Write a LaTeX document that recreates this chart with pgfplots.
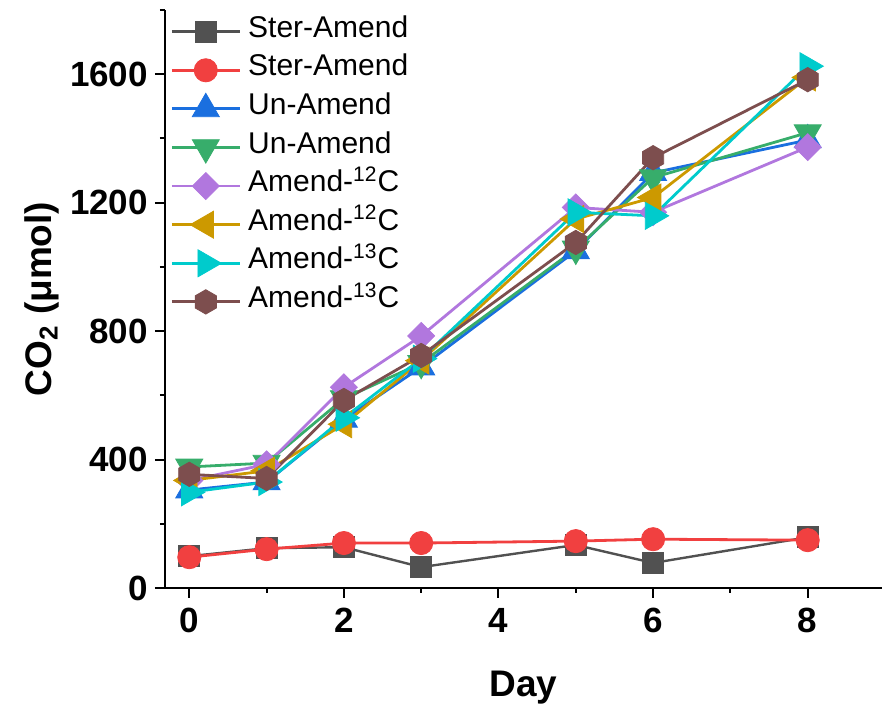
\documentclass[border=0pt]{standalone}
\usepackage{fontspec}
\setmainfont{Liberation Sans}
\usepackage{pgfplots}
\pgfplotsset{compat=1.18}
\definecolor{cgray}{HTML}{515151}
\definecolor{cred}{HTML}{F14040}
\definecolor{cblue}{HTML}{1A6FDF}
\definecolor{cgreen}{HTML}{37AD6B}
\definecolor{cpurple}{HTML}{B177DE}
\definecolor{cgold}{HTML}{CC9900}
\definecolor{ccyan}{HTML}{00CBCC}
\definecolor{cbrown}{HTML}{7D4E4E}
\pgfdeclareplotmark{hexagon*}{%
  \pgfpathmoveto{\pgfpointpolar{90}{\pgfplotmarksize}}%
  \pgfpathlineto{\pgfpointpolar{150}{\pgfplotmarksize}}%
  \pgfpathlineto{\pgfpointpolar{210}{\pgfplotmarksize}}%
  \pgfpathlineto{\pgfpointpolar{270}{\pgfplotmarksize}}%
  \pgfpathlineto{\pgfpointpolar{330}{\pgfplotmarksize}}%
  \pgfpathlineto{\pgfpointpolar{30}{\pgfplotmarksize}}%
  \pgfpathclose\pgfusepathqfillstroke}
\begin{document}
\begin{tikzpicture}
\useasboundingbox (-82.5pt,-61pt) rectangle (358.5pt,294pt);
\begin{axis}[
  at={(0,0)}, anchor=south west, scale only axis,
  width=358.5pt, height=289pt,
  xmin=-0.314, xmax=8.961, ymin=0, ymax=1800,
  clip=false,
  axis x line*=bottom, axis y line*=left,
  axis line style={line width=1pt, black},
  xtick={0,2,4,6,8}, minor xtick={1,3,5,7},
  ytick={0,400,800,1200,1600}, minor ytick={200,600,1000,1400,1800},
  tick align=outside, major tick length=5pt, minor tick length=2.5pt,
  every tick/.style={line width=1pt, black},
  ticklabel style={font=\fontsize{17.5}{17.5}\selectfont\bfseries},
  xticklabel style={yshift=-1.5pt},
  /pgf/number format/assume math mode=true,
  /pgf/number format/1000 sep={},
  xlabel={Day}, ylabel={CO\textsubscript{2} (μmol)},
  label style={font=\fontsize{18.5}{18.5}\selectfont\bfseries},
  xlabel style={at={(axis description cs:0.5,0)}, anchor=base, yshift=-54.5pt},
  ylabel style={at={(axis description cs:0,0.5)}, anchor=center, yshift=61.5pt},
  legend style={at={(rel axis cs:0,1)}, anchor=north west, xshift=2.5pt, yshift=-1pt,
    draw=none, fill=none, font=\fontsize{15}{15}\selectfont,
    row sep=0pt, inner sep=0pt,
    nodes={inner xsep=3.5pt, inner ysep=0pt, text height=12.5pt, text depth=6.8pt}},
  legend cell align=left,
  legend image code/.code={\draw[mark repeat=2,mark phase=2] plot coordinates {(0pt,0pt) (17pt,0pt) (34pt,0pt)};},
  every axis plot/.append style={line width=1.4pt},
]
\addplot[color=cgray, line width=1.2pt, mark=square*, mark size=5.3pt, mark options={solid, line width=0.4pt}]
  coordinates {(0,99) (1,124) (2,127) (3,65) (5,134) (6,78) (8,158)};
\addlegendentry{Ster-Amend}
\addplot[color=cred, mark=*, mark size=5.8pt, mark options={solid, line width=0.4pt}]
  coordinates {(0,96) (1,121) (2,140) (3,140) (5,146) (6,152) (8,149)};
\addlegendentry{Ster-Amend}
\addplot[color=cblue, mark=triangle*, mark size=7.8pt, mark options={solid, line width=0.4pt}]
  coordinates {(0,305) (1,330) (2,525) (3,688) (5,1050) (6,1293) (8,1395)};
\addlegendentry{Un-Amend}
\addplot[color=cgreen, mark=triangle*, mark size=7.8pt, mark options={solid, line width=0.4pt, rotate=180}]
  coordinates {(0,377) (1,389) (2,590) (3,700) (5,1056) (6,1278) (8,1418)};
\addlegendentry{Un-Amend}
\addplot[color=cpurple, mark=square*, mark size=4.77pt, mark options={solid, line width=0.4pt, rotate=45}]
  coordinates {(0,335) (1,385) (2,625) (3,785) (5,1185) (6,1170) (8,1373)};
\addlegendentry{Amend-\textsuperscript{12}C}
\addplot[color=cgold, mark=triangle*, mark size=7.8pt, mark options={solid, line width=0.4pt, rotate=90}]
  coordinates {(0,335) (1,365) (2,510) (3,708) (5,1149) (6,1216) (8,1590)};
\addlegendentry{Amend-\textsuperscript{12}C}
\addplot[color=ccyan, mark=triangle*, mark size=7.8pt, mark options={solid, line width=0.4pt, rotate=-90}]
  coordinates {(0,298) (1,330) (2,530) (3,714) (5,1170) (6,1159) (8,1625)};
\addlegendentry{Amend-\textsuperscript{13}C}
\addplot[color=cbrown, mark=hexagon*, mark size=6.1pt, mark options={solid, line width=0.4pt}]
  coordinates {(0,354) (1,341) (2,584) (3,724) (5,1076) (6,1340) (8,1583)};
\addlegendentry{Amend-\textsuperscript{13}C}
\end{axis}
\end{tikzpicture}
\end{document}
